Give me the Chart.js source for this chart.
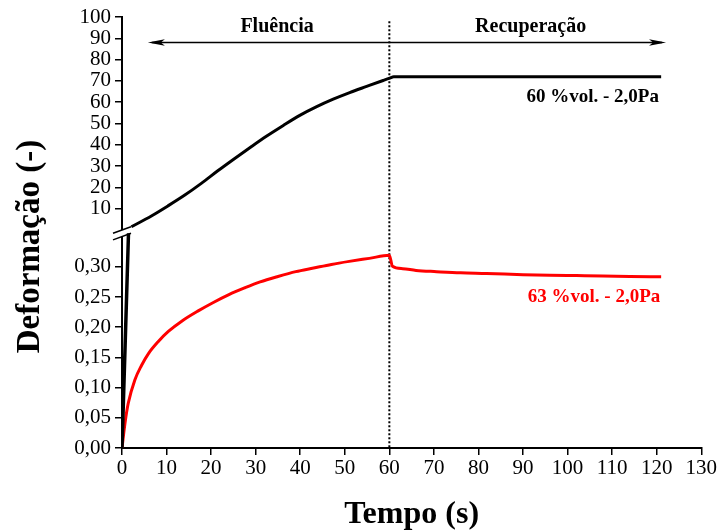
<!DOCTYPE html>
<html>
<head>
<meta charset="utf-8">
<script src="https://cdn.jsdelivr.net/npm/chart.js@4/dist/chart.umd.min.js"></script>
<style>
  body { margin: 0; background: #fff; }
  #wrap { width: 718px; height: 531px; }
</style>
</head>
<body>
<div id="wrap"><canvas id="myChart" width="718" height="531"></canvas></div>
<script>
// 60 %vol. - 2,0Pa : steep start (lower scale), then creep + recovery on upper scale
const t60Low = [0, 0.7, 1.46];
const d60Low = [0, 0.17, 0.356];
const t60 = [2.1, 6.6, 10.3, 14.1, 17.8, 21.5, 25.3, 29, 32.4, 36.2, 39.9, 43.7, 47.4, 51.1, 54.9, 58.6, 60.1, 61, 70, 80, 90, 100, 110, 121];
const d60 = [1.5, 6.6, 11.3, 16.4, 21.9, 27.8, 33.6, 39.1, 44.0, 49.1, 53.8, 57.9, 61.4, 64.5, 67.4, 70.2, 71.3, 71.9, 71.9, 71.9, 71.9, 71.9, 71.9, 71.9];

// 63 %vol. - 2,0Pa
const t63 = [0, 0.67, 1.4, 2.9, 4.4, 5.9, 8.1, 10.4, 13.4, 17.1, 20.5, 24, 27.5, 31, 35, 39, 43, 47, 51, 55.5, 60, 60.7, 63, 66, 70.6, 76, 81.8, 90, 96, 102, 107.9, 114, 121];
const d63 = [0, 0.041, 0.074, 0.113, 0.137, 0.156, 0.176, 0.193, 0.210, 0.227, 0.241, 0.254, 0.265, 0.275, 0.284, 0.292, 0.298, 0.304, 0.309, 0.314, 0.319, 0.301, 0.297, 0.294, 0.292, 0.290, 0.289, 0.287, 0.286, 0.2855, 0.285, 0.284, 0.2835];

const xTicks = [0, 130, 10];          // min, max, step
const yHighTicks = [10, 100, 10];
const yLowTicks = [0, 0.30, 0.05];

const serif = "'Liberation Serif', 'Times New Roman', serif";
Chart.defaults.font.family = serif;
Chart.defaults.color = '#000';

function pts(xs, ys) { return xs.map((x, i) => ({x: x, y: ys[i]})); }

const annotations = {
  id: 'annotations',
  beforeDatasetsDraw(chart) {
    const {ctx, scales: {x, yLow, yHigh}} = chart;
    // dotted separation line at t = 60 s
    ctx.save();
    ctx.strokeStyle = '#000';
    ctx.lineWidth = 2;
    ctx.setLineDash([2, 2]);
    ctx.beginPath();
    ctx.moveTo(x.getPixelForValue(60), yHigh.getPixelForValue(98));
    ctx.lineTo(x.getPixelForValue(60), yLow.getPixelForValue(0));
    ctx.stroke();
    ctx.restore();
  },
  afterDraw(chart) {
    const {ctx, scales: {x, yLow, yHigh}} = chart;
    ctx.save();
    // double arrow
    const ay = yHigh.getPixelForValue(88);
    const ax1 = x.getPixelForValue(5.8), ax2 = x.getPixelForValue(122.1);
    ctx.strokeStyle = '#000';
    ctx.fillStyle = '#000';
    ctx.lineWidth = 1.5;
    ctx.beginPath();
    ctx.moveTo(ax1 + 4, ay);
    ctx.lineTo(ax2 - 4, ay);
    ctx.stroke();
    ctx.beginPath();
    ctx.moveTo(ax1, ay); ctx.lineTo(ax1 + 17, ay - 3.2); ctx.lineTo(ax1 + 13, ay); ctx.lineTo(ax1 + 17, ay + 3.2);
    ctx.closePath(); ctx.fill();
    ctx.beginPath();
    ctx.moveTo(ax2, ay); ctx.lineTo(ax2 - 17, ay - 3.2); ctx.lineTo(ax2 - 13, ay); ctx.lineTo(ax2 - 17, ay + 3.2);
    ctx.closePath(); ctx.fill();

    // phase labels
    ctx.font = 'bold 20px ' + serif;
    ctx.textAlign = 'center';
    ctx.textBaseline = 'middle';
    ctx.fillText('Fluência', x.getPixelForValue(34.8), yHigh.getPixelForValue(95.2));
    ctx.fillText('Recuperação', x.getPixelForValue(91.7), yHigh.getPixelForValue(95.2));

    // series labels
    ctx.font = 'bold 19px ' + serif;
    ctx.textAlign = 'right';
    ctx.fillText('60 %vol. - 2,0Pa', x.getPixelForValue(120.5), yHigh.getPixelForValue(62.5));
    ctx.fillStyle = '#ff0000';
    ctx.fillText('63 %vol. - 2,0Pa', x.getPixelForValue(120.8), yLow.getPixelForValue(0.2505));

    // axis break
    const bx = yLow.right, by = yLow.top;
    ctx.fillStyle = '#fff';
    ctx.fillRect(bx - 3, by - 3.3, 6, 6.6);
    ctx.strokeStyle = '#000';
    ctx.lineWidth = 1.5;
    ctx.beginPath();
    ctx.moveTo(bx - 9, by); ctx.lineTo(bx + 9, by - 6.6);
    ctx.moveTo(bx - 9, by + 6.6); ctx.lineTo(bx + 9, by);
    ctx.stroke();

    // y axis title
    ctx.fillStyle = '#000';
    ctx.font = 'bold 33px ' + serif;
    ctx.textAlign = 'center';
    ctx.textBaseline = 'middle';
    ctx.translate(30, (yHigh.top + yLow.bottom) / 2 + 14);
    ctx.rotate(-Math.PI / 2);
    ctx.fillText('Deformação (-)', 0, 0);
    ctx.restore();
  }
};

const axisGrid = {display: true, drawOnChartArea: false, tickLength: 7, color: '#000', lineWidth: 1.5};
const axisBorder = {color: '#000', width: 2};

new Chart(document.getElementById('myChart').getContext('2d'), {
  type: 'line',
  data: {
    datasets: [
      {data: pts(t60Low, d60Low), yAxisID: 'yLow', borderColor: '#000', borderWidth: 3.5, pointRadius: 0},
      {data: pts(t60, d60), yAxisID: 'yHigh', borderColor: '#000', borderWidth: 3, pointRadius: 0, cubicInterpolationMode: 'monotone'},
      {data: pts(t63, d63), yAxisID: 'yLow', borderColor: '#ff0000', borderWidth: 3, pointRadius: 0, cubicInterpolationMode: 'monotone'}
    ]
  },
  options: {
    responsive: false,
    animation: false,
    layout: {padding: {top: 17, right: 16, left: 0, bottom: 0}},
    plugins: {legend: {display: false}, tooltip: {enabled: false}},
    scales: {
      x: {
        type: 'linear', min: xTicks[0], max: xTicks[1],
        ticks: {stepSize: xTicks[2], font: {size: 21}, color: '#000', padding: 1, maxRotation: 0, autoSkip: false},
        grid: axisGrid, border: axisBorder,
        title: {display: true, text: 'Tempo (s)', font: {size: 32, weight: 'bold'}, color: '#000', padding: {top: 0, bottom: -3}},
        afterFit(s) { s.height = 83; }
      },
      yLow: {
        type: 'linear', position: 'left', stack: 'y', stackWeight: 214.7,
        min: 0, max: 0.3555,
        ticks: {stepSize: yLowTicks[2], font: {size: 21}, color: '#000', padding: 4, autoSkip: false,
          callback: v => v.toFixed(2).replace('.', ',')},
        afterBuildTicks(s) { s.ticks = s.ticks.filter(t => t.value <= yLowTicks[1] + 1e-9); },
        grid: axisGrid, border: axisBorder,
        afterFit(s) { s.width = 122; }
      },
      yHigh: {
        type: 'linear', position: 'left', stack: 'y', stackWeight: 216.3,
        min: -1.55, max: 100,
        ticks: {stepSize: yHighTicks[2], font: {size: 21}, color: '#000', padding: 4, autoSkip: false},
        afterBuildTicks(s) { s.ticks = s.ticks.filter(t => t.value >= yHighTicks[0]); },
        grid: axisGrid, border: axisBorder,
        afterFit(s) { s.width = 122; }
      }
    }
  },
  plugins: [annotations]
});
</script>
</body>
</html>
